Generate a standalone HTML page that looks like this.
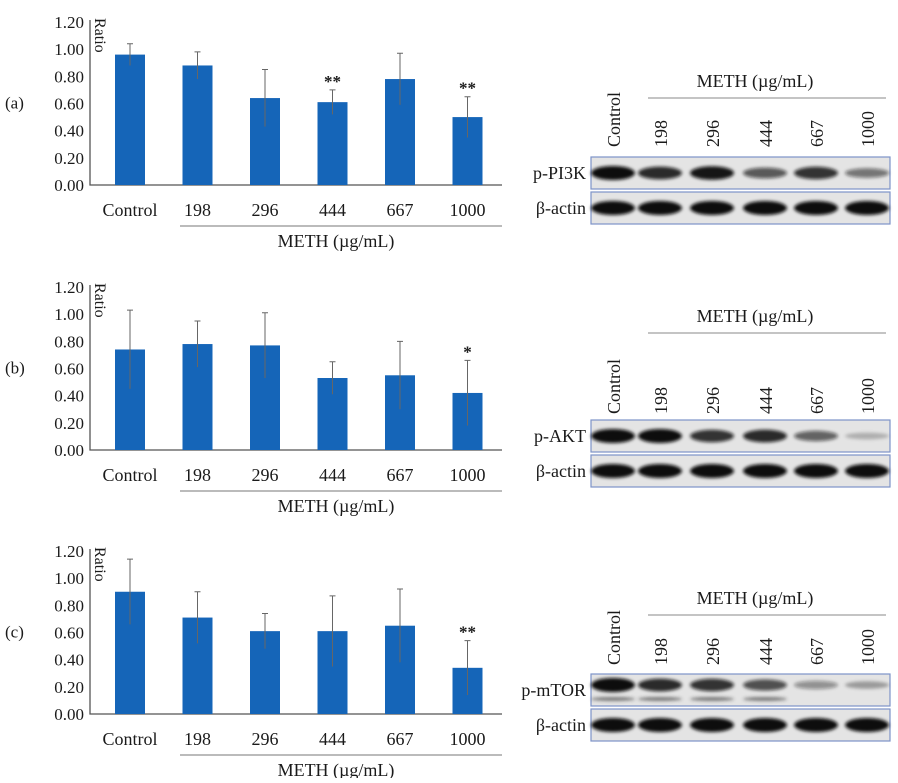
<!DOCTYPE html>
<html><head><meta charset="utf-8"><style>
body{margin:0;background:#fff;}
svg text{font-family:"Liberation Serif",serif;fill:#1a1a1a;}
</style></head><body>
<svg id="fig" width="898" height="778" viewBox="0 0 898 778">
<defs><filter id="blur" x="-20%" y="-100%" width="140%" height="300%"><feGaussianBlur stdDeviation="1.6"/></filter></defs>
</svg>
<script>
const categories=["Control","198","296","444","667","1000"];
const yTicks=["0.00","0.20","0.40","0.60","0.80","1.00","1.20"];
const valuesA=[0.96,0.88,0.64,0.61,0.78,0.50];
const errorsA=[0.08,0.10,0.21,0.09,0.19,0.15];
const sigA=["","","","**","","**"];
const valuesB=[0.74,0.78,0.77,0.53,0.55,0.42];
const errorsB=[0.29,0.17,0.24,0.12,0.25,0.24];
const sigB=["","","","","","*"];
const valuesC=[0.90,0.71,0.61,0.61,0.65,0.34];
const errorsC=[0.24,0.19,0.13,0.26,0.27,0.20];
const sigC=["","","","","","**"];
const bandA1=[1.0,0.85,0.95,0.6,0.8,0.45];
const bandA2=[1,1,1,1,1,1];
const bandB1=[1.0,1.0,0.8,0.85,0.55,0.1];
const bandC1=[1.0,0.85,0.8,0.65,0.3,0.2];

const NS="http://www.w3.org/2000/svg";
const svg=document.getElementById('fig');
function mk(tag,attrs,parent){const e=document.createElementNS(NS,tag);for(const k in attrs)e.setAttribute(k,attrs[k]);(parent||svg).appendChild(e);return e;}

function chart(top,label,vals,errs,sig,name){
  const g=mk('g',{});
  
  
  const y0=top+163, x0=90, x1=502;
  const y=v=>y0-v/1.2*163;
  const xs=i=>130+i*67.5;
  const axis=mk('path',{d:`M${x0} ${top-2} V${y0} H${x1}`,stroke:'#555','stroke-width':1.3,fill:'none'},g);
  
  
  yTicks.forEach((t,i)=>{const tx=mk('text',{x:x0-6,y:y(i*0.2)+6,'text-anchor':'end','font-size':17},g);tx.textContent=t;
    
    });
  const r=mk('text',{transform:`translate(95,${top-4}) rotate(90)`,'font-size':16},g);r.textContent='Ratio';
  
  
  const pl=mk('text',{x:5,y:y(0.6)+5,'font-size':17},g);pl.textContent=label;
  
  
  vals.forEach((v,i)=>{
    const cx=xs(i);
    const b=mk('rect',{x:cx-15,y:y(v),width:30,height:y0-y(v),fill:'#1565b8'},g);
    
    
    const e=mk('path',{d:`M${cx} ${y(v+errs[i])} V${y(v-errs[i])} M${cx-3} ${y(v+errs[i])} H${cx+3}`,stroke:'#666','stroke-width':1,fill:'none'},g);
    
    
    if(sig[i]){const s=mk('text',{x:cx,y:y(v+errs[i])-3,'text-anchor':'middle','font-size':17,'font-weight':'bold'},g);s.textContent=sig[i];
      
      }
    const t=mk('text',{x:cx,y:y0+31,'text-anchor':'middle','font-size':18},g);t.textContent=categories[i];
    
    
  });
  const ln=mk('line',{x1:180,x2:502,y1:y0+41,y2:y0+41,stroke:'#777','stroke-width':1},g);
  
  
  const m=mk('text',{x:336,y:y0+62,'text-anchor':'middle','font-size':18},g);m.textContent='METH (\u00b5g/mL)';
  
  
}
chart(22,'(a)',valuesA,errorsA,sigA,'panel-a');
chart(287,'(b)',valuesB,errorsB,sigB,'panel-b');
chart(551,'(c)',valuesC,errorsC,sigC,'panel-c');

const lanes=[613,660,712,765,816,867];
function blot(boxTop,headerY,labelBase,protein,band1,name,extra){
  const g=mk('g',{});
  
  
  const h=mk('text',{x:755,y:headerY,'text-anchor':'middle','font-size':18},g);h.textContent='METH (\u00b5g/mL)';
  
  
  mk('line',{x1:648,x2:886,y1:headerY+11,y2:headerY+11,stroke:'#888','stroke-width':1},g);
  categories.forEach((c,i)=>{const t=mk('text',{transform:`translate(${lanes[i]+7},${labelBase}) rotate(-90)`,'font-size':18},g);t.textContent=c;
    
    });
  [[protein,band1],['\u03b2-actin',bandA2]].forEach((row,r)=>{
    const ty=boxTop+r*35;
    const box=mk('rect',{x:591,y:ty,width:299,height:32,fill:'#e4e4e4',stroke:'#7d93c8','stroke-width':1.2},g);
    
    
    const lb=mk('text',{x:586,y:ty+22,'text-anchor':'end','font-size':18},g);lb.textContent=row[0];
    
    
    row[1].forEach((v,i)=>{
      const b=mk('ellipse',{cx:lanes[i],cy:ty+(extra&&!r?11:16),rx:22,ry:r?7:3+4*v,fill:'#111','fill-opacity':0.15+0.85*v,filter:'url(#blur)'},g);
      
      
      if(extra&&!r&&i<4){const b2=mk('ellipse',{cx:lanes[i],cy:ty+25,rx:22,ry:2,fill:'#333','fill-opacity':0.6,filter:'url(#blur)'},g);
        
        }
    });
  });
}
blot(157,87,147,'p-PI3K',bandA1,'pi3k',false);
blot(420,322,414,'p-AKT',bandB1,'akt',false);
blot(674,604,665,'p-mTOR',bandC1,'mtor',true);
</script>
</body></html>
